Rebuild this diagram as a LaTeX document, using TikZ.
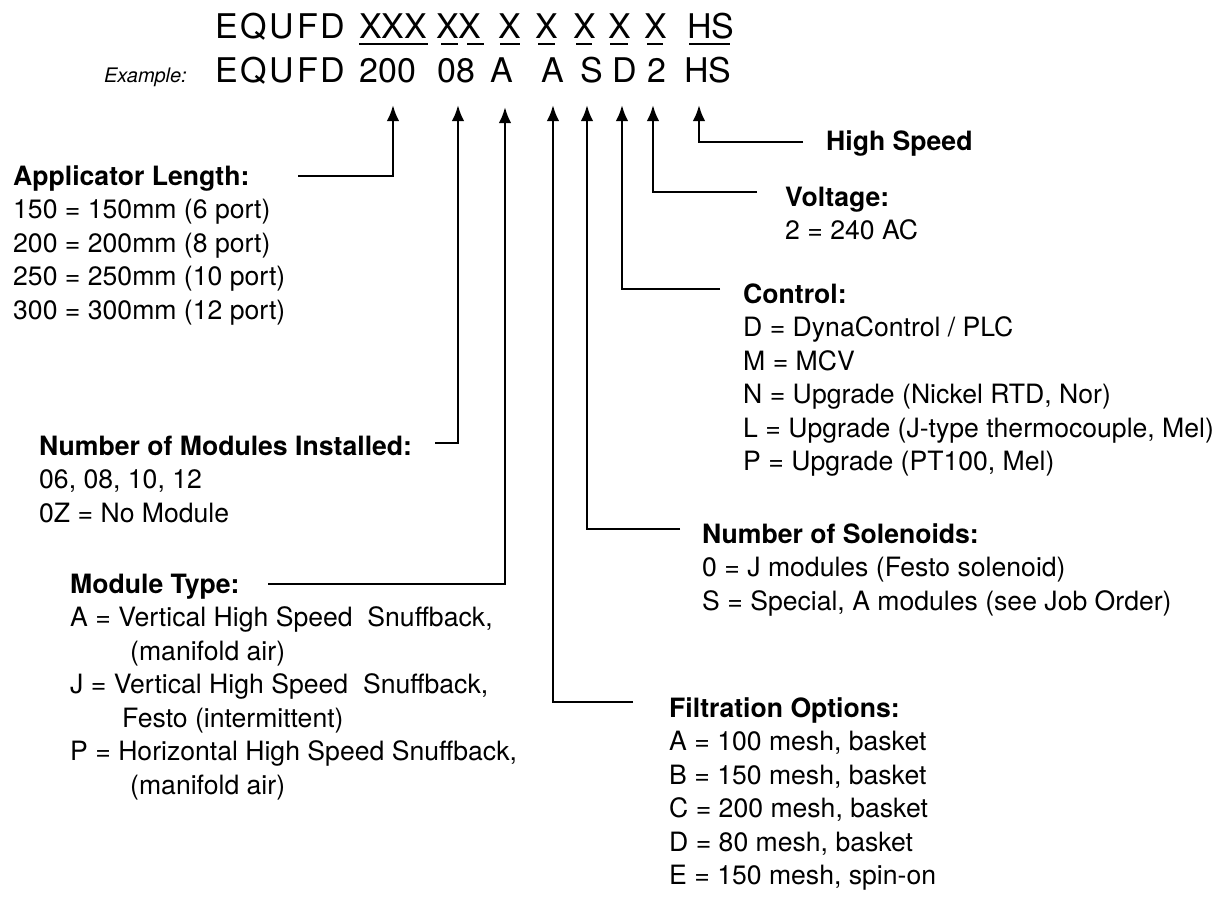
\documentclass[tikz,border=0pt]{standalone}
\usepackage{fontspec}
\setmainfont{TeX Gyre Heros}
\usetikzlibrary{arrows.meta,calc}
\begin{document}
\begin{tikzpicture}[x=1pt,y=-1pt,
  hdr/.style={font=\fontsize{34}{40}\selectfont, inner sep=0pt, anchor=base west},
  ttl/.style={font=\fontsize{26.6}{33}\selectfont\bfseries, inner sep=0pt, anchor=base west},
  txt/.style={font=\fontsize{26.6}{33}\selectfont, inner sep=0pt, anchor=base west},
  conn/.style={line width=2.5pt, -{Latex[length=16pt,width=12.5pt]}},
  uline/.style={line width=1.7pt}]
\useasboundingbox (0,0) rectangle (1218,898);

% ---- header row 1 ----
\node[hdr] (h0) at (215,38) {\addfontfeature{LetterSpace=8}EQUFD};
\node[hdr] (h1) at (359,38) {XXX};
\node[hdr] (h2) at (436,38) {XX};
\node[hdr] (h3) at (498,38) {X};
\node[hdr] (h4) at (535,38) {X};
\node[hdr] (h5) at (573,38) {X};
\node[hdr] (h6) at (608,38) {X};
\node[hdr] (h7) at (644,38) {X};
\node[hdr] (h8) at (687,38) {HS};
\foreach \a/\b in {359/428,441/458,467/484,500/520,538/555,576/592,610/628,647/663,689/730}
  \draw[uline] (\a,44) -- (\b,44);

% ---- header row 2 ----
\node[font=\fontsize{20}{24}\selectfont\itshape, inner sep=0pt, anchor=base east] (ex) at (187,82) {Example:};
\node[hdr] (r0) at (215,82) {\addfontfeature{LetterSpace=8}EQUFD};
\node[hdr] (r1) at (359,82) {200};
\node[hdr] (r2) at (437,82) {08};
\node[hdr] (r3) at (490,82) {A};
\node[hdr] (r4) at (541,82) {A};
\node[hdr] (r5) at (580,82) {S};
\node[hdr] (r6) at (612,82) {D};
\node[hdr] (r7) at (647,82) {2};
\node[hdr] (r8) at (684,82) {HS};

% ---- arrow tips ----
\coordinate (t1) at (393,105);
\coordinate (t2) at (458,105);
\coordinate (t3) at (505,107);
\coordinate (t4) at (553,105);
\coordinate (t5) at (587,105);
\coordinate (t6) at (622,105);
\coordinate (t7) at (653,105);
\coordinate (t8) at (699,105);

% ---- connector free ends ----
\coordinate (s1) at (298,176);
\coordinate (s2) at (435,443);
\coordinate (s3) at (268,584);
\coordinate (s4) at (633,702);
\coordinate (s5) at (680,529);
\coordinate (s6) at (720,289);
\coordinate (s7) at (757,192);
\coordinate (s8) at (803,142);

\foreach \i in {1,...,8}
  \draw[conn] (s\i) -| (t\i);

% ---- Applicator Length ----
\node[ttl] (appT) at (13,185) {Applicator Length:};
\foreach \lbl [count=\i] in {150 = 150mm (6 port), 200 = 200mm (8 port), 250 = 250mm (10 port), 300 = 300mm (12 port)}
  \node[txt] (app\i) at (13,{185+33.5*\i}) {\lbl};

% ---- Number of Modules ----
\node[ttl] (modT) at (39,455) {Number of Modules Installed:};
\node[txt] (mod1) at (39,488.5) {06, 08, 10, 12};
\node[txt] (mod2) at (39,522) {0Z = No Module};

% ---- Module Type ----
\node[ttl] (typT) at (70,593) {Module Type:};
\node[txt] (typ1) at (70,626.5) {A = Vertical High Speed\ \ Snuffback,};
\node[txt] (typ2) at (130,660) {(manifold air)};
\node[txt] (typ3) at (70,693.5) {J = Vertical High Speed\ \ Snuffback,};
\node[txt] (typ4) at (122,727) {Festo (intermittent)};
\node[txt] (typ5) at (70,760.5) {P = Horizontal High Speed Snuffback,};
\node[txt] (typ6) at (130,794) {(manifold air)};

% ---- High Speed ----
\node[ttl] (hsT) at (826,150) {High Speed};

% ---- Voltage ----
\node[ttl] (volT) at (785,206) {Voltage:};
\node[txt] (vol1) at (785,239.5) {2 = 240 AC};

% ---- Control ----
\node[ttl] (conT) at (743,303) {Control:};
\foreach \lbl [count=\i] in {D = DynaControl / PLC, M = MCV, {N = Upgrade (Nickel RTD, Nor)}, {L = Upgrade (J-type thermocouple, Mel)}, {P = Upgrade (PT100, Mel)}}
  \node[txt] (con\i) at (743,{303+33.5*\i}) {\lbl};

% ---- Solenoids ----
\node[ttl] (solT) at (702,543) {Number of Solenoids:};
\node[txt] (sol1) at (702,576.5) {0 = J modules (Festo solenoid)};
\node[txt] (sol2) at (702,610) {S = Special, A modules (see Job Order)};

% ---- Filtration ----
\node[ttl] (filT) at (669,717) {Filtration Options:};
\foreach \lbl [count=\i] in {{A = 100 mesh, basket}, {B = 150 mesh, basket}, {C = 200 mesh, basket}, {D = 80 mesh, basket}, {E = 150 mesh, spin-on}}
  \node[txt] (fil\i) at (669,{717+33.5*\i}) {\lbl};
\end{tikzpicture}
\end{document}
